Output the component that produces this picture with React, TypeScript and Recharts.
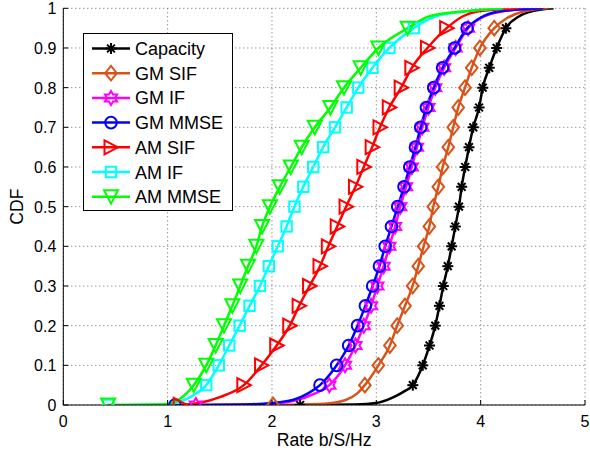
import React from 'react';
import { LineChart, Line, XAxis, YAxis, CartesianGrid, Legend } from 'recharts';

// CDF levels where markers sit
const levels = [0.05, 0.1, 0.15, 0.2, 0.25, 0.3, 0.35, 0.4, 0.45, 0.5, 0.55, 0.6, 0.65, 0.7, 0.75, 0.8, 0.85, 0.9, 0.95];
const xTicks = [0, 1, 2, 3, 4, 5];
const yTicks = [0, 0.1, 0.2, 0.3, 0.4, 0.5, 0.6, 0.7, 0.8, 0.9, 1];
const yTickLabels = ['0', '0.1', '0.2', '0.3', '0.4', '0.5', '0.6', '0.7', '0.8', '0.9', '1'];

// Capacity
const capacityMin = 2.27;
const capacityLow = [[2.8, 0.001], [3.0, 0.005], [3.15, 0.018], [3.26, 0.033]];
const capacityMarks = [3.35, 3.445, 3.51, 3.565, 3.605, 3.642, 3.685, 3.722, 3.757, 3.792, 3.818, 3.852, 3.888, 3.929, 3.985, 4.02, 4.082, 4.153, 4.242];
const capacityHigh = [[4.37, 0.98], [4.5, 0.993], [4.7, 1]];

// GM SIF
const gmSifMin = 2.01;
const gmSifLow = [[2.5, 0.003], [2.7, 0.012], [2.82, 0.03]];
const gmSifMarks = [2.89, 3.02, 3.13, 3.2, 3.275, 3.348, 3.402, 3.453, 3.508, 3.546, 3.594, 3.636, 3.69, 3.737, 3.785, 3.85, 3.914, 3.993, 4.13];
const gmSifHigh = [[4.25, 0.975], [4.41, 0.992], [4.65, 1]];

// GM IF
const gmIfMin = 1.27;
const gmIfLow = [[1.9, 0.002], [2.2, 0.01], [2.42, 0.03]];
const gmIfMarks = [2.55, 2.7, 2.8, 2.88, 2.95, 3.01, 3.07, 3.125, 3.18, 3.23, 3.285, 3.34, 3.39, 3.44, 3.5, 3.565, 3.65, 3.76, 3.88];
const gmIfHigh = [[4.0, 0.975], [4.2, 0.992], [4.55, 1]];

// GM MMSE
const gmMmseMin = 1.07;
const gmMmseLow = [[1.8, 0.002], [2.15, 0.01], [2.35, 0.03]];
const gmMmseMarks = [2.46, 2.62, 2.735, 2.82, 2.895, 2.965, 3.03, 3.085, 3.145, 3.205, 3.265, 3.32, 3.375, 3.425, 3.48, 3.55, 3.635, 3.75, 3.87];
const gmMmseHigh = [[3.99, 0.975], [4.18, 0.992], [4.6, 1]];

// AM SIF
const amSifMin = 1.12;
const amSifLow = [[1.3, 0.005], [1.5, 0.02]];
const amSifMarks = [1.73, 1.9, 2.045, 2.17, 2.26, 2.36, 2.46, 2.54, 2.625, 2.71, 2.8, 2.88, 2.96, 3.035, 3.124, 3.238, 3.34, 3.49, 3.674];
const amSifHigh = [[3.83, 0.98], [3.99, 0.993], [4.37, 1]];

// AM IF
const amIfMin = 0.43;
const amIfLow = [[0.95, 0.001], [1.1, 0.007], [1.25, 0.025]];
const amIfMarks = [1.37, 1.49, 1.59, 1.69, 1.785, 1.885, 1.97, 2.055, 2.14, 2.215, 2.3, 2.395, 2.49, 2.604, 2.716, 2.827, 2.963, 3.125, 3.36];
const amIfHigh = [[3.55, 0.978], [3.85, 0.992], [4.2, 1]];

// AM MMSE
const amMmseMin = 0.43;
const amMmseLow = [[0.9, 0.001], [1.05, 0.006], [1.15, 0.022]];
const amMmseMarks = [1.25, 1.37, 1.46, 1.54, 1.62, 1.695, 1.77, 1.85, 1.905, 1.98, 2.075, 2.18, 2.285, 2.41, 2.56, 2.69, 2.85, 3.02, 3.3];
const amMmseHigh = [[3.51, 0.98], [3.83, 0.992], [4.22, 1]];

type Pt = { x: number; y: number; m: boolean };
function build(min: number, low: number[][], marks: number[], high: number[][]): Pt[] {
  return [
    { x: min, y: 0, m: true },
    ...low.map(([x, y]) => ({ x, y, m: false })),
    ...marks.map((x, i) => ({ x, y: levels[i], m: true })),
    ...high.map(([x, y]) => ({ x, y, m: false })),
  ];
}

const series = [
  { name: 'Capacity', color: '#000000', shape: 'star', data: build(capacityMin, capacityLow, capacityMarks, capacityHigh) },
  { name: 'GM SIF', color: '#D95319', shape: 'diamond', data: build(gmSifMin, gmSifLow, gmSifMarks, gmSifHigh) },
  { name: 'GM IF', color: '#FF00FF', shape: 'hexagram', data: build(gmIfMin, gmIfLow, gmIfMarks, gmIfHigh) },
  { name: 'GM MMSE', color: '#0000FF', shape: 'circle', data: build(gmMmseMin, gmMmseLow, gmMmseMarks, gmMmseHigh) },
  { name: 'AM SIF', color: '#FF0000', shape: 'triRight', data: build(amSifMin, amSifLow, amSifMarks, amSifHigh) },
  { name: 'AM IF', color: '#00FFFF', shape: 'square', data: build(amIfMin, amIfLow, amIfMarks, amIfHigh) },
  { name: 'AM MMSE', color: '#00FF00', shape: 'triDown', data: build(amMmseMin, amMmseLow, amMmseMarks, amMmseHigh) },
];

const FONT = '"Liberation Sans", Arial, Helvetica, sans-serif';

function Marker({ shape, cx, cy, color }: { shape: string; cx: number; cy: number; color: string }) {
  const common = { fill: 'none', stroke: color, strokeWidth: 2 };
  switch (shape) {
    case 'star': {
      const r = 5.5;
      const d = r * 0.7071;
      return (
        <g stroke={color} strokeWidth={2}>
          <line x1={cx - r} y1={cy} x2={cx + r} y2={cy} />
          <line x1={cx} y1={cy - r} x2={cx} y2={cy + r} />
          <line x1={cx - d} y1={cy - d} x2={cx + d} y2={cy + d} />
          <line x1={cx - d} y1={cy + d} x2={cx + d} y2={cy - d} />
        </g>
      );
    }
    case 'diamond':
      return <polygon {...common} points={`${cx},${cy - 7.3} ${cx + 5.8},${cy} ${cx},${cy + 7.3} ${cx - 5.8},${cy}`} />;
    case 'hexagram': {
      const R = 7;
      const r = R / Math.sqrt(3);
      const pts: string[] = [];
      for (let i = 0; i < 12; i++) {
        const a = (-90 + i * 30) * Math.PI / 180;
        const rr = i % 2 === 0 ? R : r;
        pts.push(`${cx + rr * Math.cos(a)},${cy + rr * Math.sin(a)}`);
      }
      return <polygon {...common} points={pts.join(' ')} />;
    }
    case 'circle':
      return <circle {...common} cx={cx} cy={cy} r={5.8} />;
    case 'triRight':
      return <polygon {...common} points={`${cx + 7},${cy} ${cx - 6.5},${cy - 7} ${cx - 6.5},${cy + 7}`} />;
    case 'triDown':
      return <polygon {...common} points={`${cx - 7},${cy - 6.5} ${cx + 7},${cy - 6.5} ${cx},${cy + 7}`} />;
    case 'square':
      return <rect {...common} x={cx - 5.2} y={cy - 5.2} width={10.4} height={10.4} />;
    default:
      return null;
  }
}

const makeDot = (shape: string, color: string) => (props: any) => {
  const { cx, cy, payload, index } = props;
  if (!payload || !payload.m || cx == null || cy == null) return <g key={`d${index}`} />;
  return (
    <g key={`d${index}`}>
      <Marker shape={shape} cx={cx} cy={cy} color={color} />
    </g>
  );
};

const YTick = (props: any) => {
  const { x, y, index } = props;
  return (
    <g>
      <line x1={x} x2={x + 5} y1={y} y2={y} stroke="#000" strokeWidth={1} />
      <text x={x - 7} y={y + 6} textAnchor="end" fontSize={16} fontFamily={FONT} fill="#000">
        {yTickLabels[index]}
      </text>
    </g>
  );
};

const XTick = (props: any) => {
  const { x, y, payload } = props;
  return (
    <g>
      <line x1={x} x2={x} y1={y} y2={y - 5} stroke="#000" strokeWidth={1} />
      <text x={x} y={y + 22} textAnchor="middle" fontSize={16} fontFamily={FONT} fill="#000">
        {String(payload.value)}
      </text>
    </g>
  );
};

const LegendBox = () => {
  const rowH = 24.7;
  return (
    <svg width={151} height={180} style={{ display: 'block' }}>
      <rect x={0.5} y={0.5} width={149} height={177} fill="#fff" stroke="#000" strokeWidth={1} />
      {series.map((s, i) => {
        const cy = 15.5 + i * rowH;
        return (
          <g key={s.name}>
            <line x1={9} x2={47} y1={cy} y2={cy} stroke={s.color} strokeWidth={2.5} />
            <Marker shape={s.shape} cx={28} cy={cy} color={s.color} />
            <text x={52} y={cy + 6.5} fontSize={18} fontFamily={FONT} fill="#000">
              {s.name}
            </text>
          </g>
        );
      })}
    </svg>
  );
};

export default function App() {
  return (
    <div style={{ position: 'absolute', left: 0, top: 0, width: 590, height: 455, background: '#fff' }}>
      <LineChart width={590} height={455} margin={{ top: 8.3, right: 5, left: 0, bottom: 0 }} style={{ fontFamily: FONT }}>
        <CartesianGrid
          stroke="#666"
          strokeDasharray="1 3"
          strokeWidth={1}
          horizontalValues={yTicks}
          verticalValues={xTicks}
        />
        <XAxis
          dataKey="x"
          type="number"
          domain={[0, 5]}
          ticks={xTicks}
          allowDataOverflow
          height={50}
          tickSize={0}
          tickMargin={0}
          tickLine={false}
          axisLine={{ stroke: '#000', strokeWidth: 1 }}
          tick={<XTick />}
          interval={0}
          label={{
            content: (p: any) => {
              const vb = p.viewBox || { x: 63.3, width: 521.7, y: 405 };
              return (
                <text x={vb.x + vb.width / 2} y={vb.y + 41} textAnchor="middle" fontSize={17.6} fontFamily={FONT} fill="#000">
                  Rate b/S/Hz
                </text>
              );
            },
          }}
        />
        <YAxis
          type="number"
          domain={[0, 1]}
          ticks={yTicks}
          allowDataOverflow
          width={63.3}
          tickSize={0}
          tickMargin={0}
          tickLine={false}
          axisLine={{ stroke: '#000', strokeWidth: 1 }}
          tick={<YTick />}
          interval={0}
          label={{
            content: (p: any) => {
              const vb = p.viewBox || { x: 0, y: 8.3, height: 396.7 };
              const cx = vb.x + 23;
              const cy = vb.y + vb.height / 2;
              return (
                <text x={cx} y={cy} transform={`rotate(-90 ${cx} ${cy})`} textAnchor="middle" fontSize={17.6} fontFamily={FONT} fill="#000">
                  CDF
                </text>
              );
            },
          }}
        />
        <Legend
          layout="vertical"
          align="center"
          verticalAlign="middle"
          content={() => <LegendBox />}
          wrapperStyle={{ left: 83, top: 33, width: 151, height: 180, margin: 0, padding: 0 }}
        />
        {series.map((s) => (
          <Line
            key={s.name}
            name={s.name}
            data={s.data}
            dataKey="y"
            type="monotone"
            stroke={s.color}
            strokeWidth={2.5}
            dot={makeDot(s.shape, s.color)}
            activeDot={false}
            isAnimationActive={false}
          />
        ))}
      </LineChart>
    </div>
  );
}
